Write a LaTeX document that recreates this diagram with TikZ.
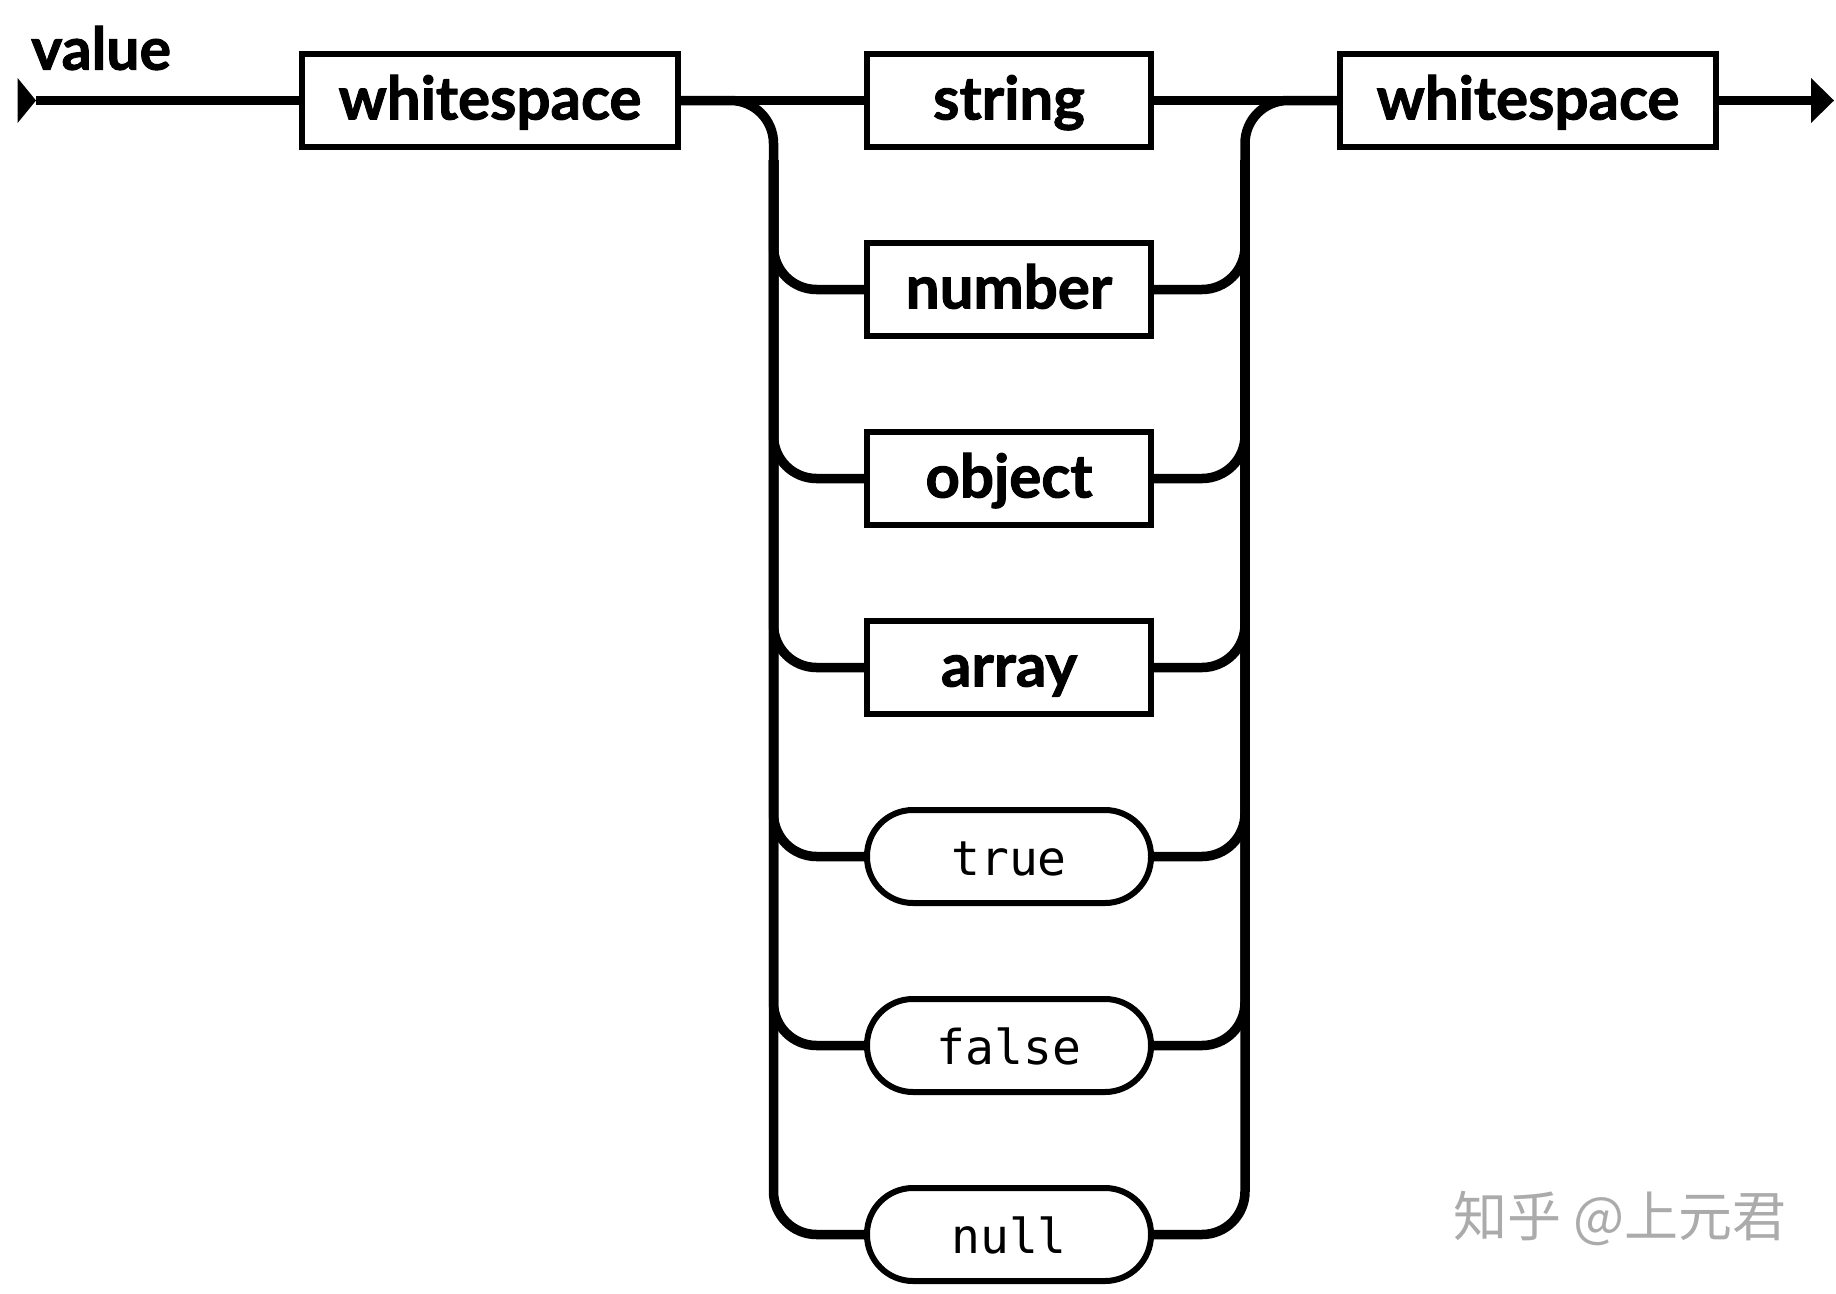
\documentclass[tikz,border=0pt]{standalone}
\usepackage{fontspec}
\setmainfont{Lato}[BoldFeatures={FakeBold=1.6}]
\newfontfamily\monofont{DejaVu Sans Mono}
\newfontfamily\cjkfont{Noto Sans CJK SC}
\begin{document}
\begin{tikzpicture}[x=1pt,y=-1pt,
  nonterm/.style={draw, line width=6pt, minimum width=284pt, minimum height=93pt, inner sep=0pt,
    font=\fontsize{60}{62}\selectfont\bfseries, text height=50pt, text depth=12pt},
  wsbox/.style={nonterm, minimum width=376pt},
  term/.style={draw, line width=6pt, rounded corners=46pt, minimum width=284pt, minimum height=93pt, inner sep=0pt,
    font=\fontsize{48}{50}\selectfont\monofont, text height=50pt, text depth=12pt},
  wire/.style={line width=9.5pt},
  rail/.style={wire, rounded corners=43pt},
  tip/.style={fill=black}]
\useasboundingbox (0,0) rectangle (1836,1293);

% nodes
\node[font=\fontsize{59}{60}\selectfont\bfseries, anchor=base west, inner sep=0pt] (lbl) at (31,69.7) {value};
\node[wsbox] (ws1) at (490,100.5) {whitespace};
\node[nonterm] (string) at (1009,100.5) {string};
\node[wsbox] (ws2) at (1528,100.5) {whitespace};
\node[nonterm] (number) at (1009,289.5) {number};
\node[nonterm] (object) at (1009,478.5) {object};
\node[nonterm] (array) at (1009,667.5) {array};
\node[term] (true) at (1009,856.5) {true};
\node[term] (false) at (1009,1045.5) {false};
\node[term] (null) at (1009,1234.5) {null};

\coordinate (start) at (36,100.5);
\coordinate (end) at (1811,100.5);
\coordinate (lt) at (773.5,100.5);
\coordinate (lm) at (773.5,160);
\coordinate (lb) at (773.5,1234.5);
\coordinate (rt) at (1245,100.5);
\coordinate (rm) at (1245,160);
\coordinate (rb) at (1245,1234.5);

% arrow ends
\fill[tip] (17.6,78) -- (start) -- (17.6,123) -- cycle;
\fill[tip] (1811,78) -- (1834,100.5) -- (1811,123) -- cycle;

% main line
\draw[wire] (start) -- (ws1.west);
\draw[wire] (ws1.east) -- (string.west);
\draw[wire] (string.east) -- (ws2.west);
\draw[wire] (ws2.east) -- (end);

% left rail
\draw[rail] (ws1.east) -- (lt) -- (lb) -- (null.west);
\foreach \n in {number,object,array,true,false}
  \draw[rail] (lm) |- (\n.west);

% right rail
\draw[rail] (null.east) -- (rb) -- (rt) -- (ws2.west);
\foreach \n in {number,object,array,true,false}
  \draw[rail] (\n.east) -| (rm);

% watermark
\node[text=black!33, font=\cjkfont\fontsize{54}{56}\selectfont, inner sep=0pt] (wm) at (1620,1218) {知乎 @上元君};
\end{tikzpicture}
\end{document}
